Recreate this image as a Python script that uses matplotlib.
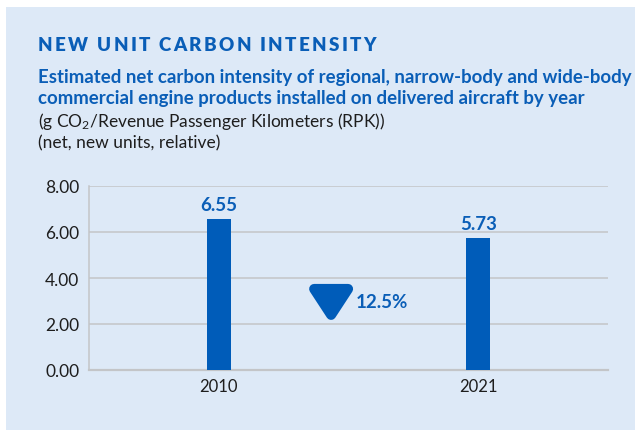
import matplotlib
matplotlib.use("Agg")
import matplotlib.pyplot as plt
import matplotlib.transforms as mtransforms
from matplotlib.font_manager import FontProperties
from matplotlib.patches import Polygon, Rectangle

# ---- data ----
years = ["2010", "2021"]
intensity = [6.55, 5.73]
y_ticks = [0.0, 2.0, 4.0, 6.0, 8.0]

title = "NEW UNIT CARBON INTENSITY"
subtitle = [
    "Estimated net carbon intensity of regional, narrow-body and wide-body",
    "commercial engine products installed on delivered aircraft by year",
]
unit_lines = [
    "(g CO$_2$/Revenue Passenger Kilometers (RPK))",
    "(net, new units, relative)",
]

# ---- style ----
BG = "#dde9f7"
BLUE = "#0a5eb7"
BAR = "#005cb9"
DARK = "#1e1e1e"
GRID = "#c3c5c8"
FONT = "Lato"

plt.rcParams["font.family"] = [FONT, "DejaVu Sans"]
plt.rcParams["mathtext.fontset"] = "custom"
plt.rcParams["mathtext.rm"] = FONT
plt.rcParams["mathtext.default"] = "regular"

W, H = 635, 431
fig = plt.figure(figsize=(W / 100, H / 100), dpi=100)
fig.patch.set_facecolor("white")
fig.patches.append(Rectangle((6 / W, 0), 1 - 6 / W, 1 - 7.5 / H,
                             transform=fig.transFigure, facecolor=BG,
                             edgecolor="none", zorder=-10))
renderer = fig.canvas.get_renderer()


def fx(px):
    return px / W


def fy(py):
    return 1 - py / H


def text_width(s, fp):
    if not s:
        return 0.0
    return renderer.get_text_width_height_descent(s, fp, ismath=False)[0]


def tracked_text(x, y, s, fp, target_width, color):
    """Draw a heading with even letter spacing spanning target_width pixels."""
    natural = text_width(s, fp)
    track = (target_width - natural) / (len(s) - 1)
    for i, ch in enumerate(s):
        if ch == " ":
            continue
        left = text_width(s[: i + 1], fp) - text_width(ch, fp)
        fig.text(fx(x + left + i * track), fy(y), ch, fontproperties=fp,
                 color=color, ha="left", va="baseline")


def fitted_size(s, base_size, weight, target_width):
    fp = FontProperties(family=FONT, weight=weight, size=base_size)
    t = fig.text(0, 0, s, fontproperties=fp)
    w = t.get_window_extent(renderer).width
    t.remove()
    return base_size * target_width / w


# heading
title_fp = FontProperties(family=FONT, weight="heavy", size=13.5)
tracked_text(38, 51, title, title_fp, 338, BLUE)

# bold subtitle
sub_size = fitted_size(subtitle[0], 12, "bold", 590)
for line, base in zip(subtitle, [83, 104]):
    fig.text(fx(38), fy(base), line, fontsize=sub_size, fontweight="bold",
             color=BLUE, ha="left", va="baseline")

# unit lines
unit_size = fitted_size(unit_lines[0], 12, "normal", 347)
for line, base in zip(unit_lines, [127, 148]):
    fig.text(fx(38), fy(base), line, fontsize=unit_size, color=DARK,
             ha="left", va="baseline")

# ---- chart ----
ax = fig.add_axes([fx(89), (H - 371) / H, (608 - 89) / W, (371 - 187) / H])
ax.set_facecolor(BG)
x = list(range(len(years)))
ax.bar(x, intensity, width=0.0925, color=BAR, zorder=3)
ax.set_xlim(-0.5, len(years) - 0.5)
ax.set_ylim(y_ticks[0], y_ticks[-1])
ax.set_yticks(y_ticks)
ax.set_yticklabels([f"{t:.2f}" for t in y_ticks])
ax.set_xticks(x)
ax.set_xticklabels(years)
ax.tick_params(length=0, labelsize=12.5, labelcolor=DARK)
ax.tick_params(axis="y", pad=7)
ax.tick_params(axis="x", labelsize=12, pad=6)
ax.grid(axis="y", color=GRID, linewidth=1.1, zorder=1)
ax.set_axisbelow(True)
for side in ["top", "right"]:
    ax.spines[side].set_visible(False)
ax.spines["left"].set_color(GRID)
ax.spines["left"].set_linewidth(1.1)
ax.spines["bottom"].set_color(GRID)
ax.spines["bottom"].set_linewidth(1.6)

for xi, v in zip(x, intensity):
    ax.annotate(f"{v:.2f}", (xi, v), xytext=(0, 6.5), textcoords="offset points",
                ha="center", va="baseline", fontsize=13.5, fontweight="bold",
                color=BLUE)

# change indicator between the two bars: a rounded down-pointing triangle
drop = (intensity[0] - intensity[-1]) / intensity[0] * 100
arrow_x, arrow_y = 0.433, 2.96
anchor = fig.dpi_scale_trans + mtransforms.ScaledTranslation(
    arrow_x, arrow_y, ax.transData)
tri = Polygon([(-0.17, 0.13), (0.17, 0.13), (0.0, -0.13)], closed=True,
              transform=anchor, facecolor=BAR, edgecolor=BAR,
              linewidth=7.2, joinstyle="round", zorder=4)
ax.add_patch(tri)
ax.annotate(f"{drop:.1f}%", (arrow_x, arrow_y), xytext=(18, -3.6),
            textcoords="offset points", ha="left", va="baseline",
            fontsize=13.5, fontweight="bold", color=BLUE)

fig.savefig("out.png", dpi=100, facecolor=fig.get_facecolor())
